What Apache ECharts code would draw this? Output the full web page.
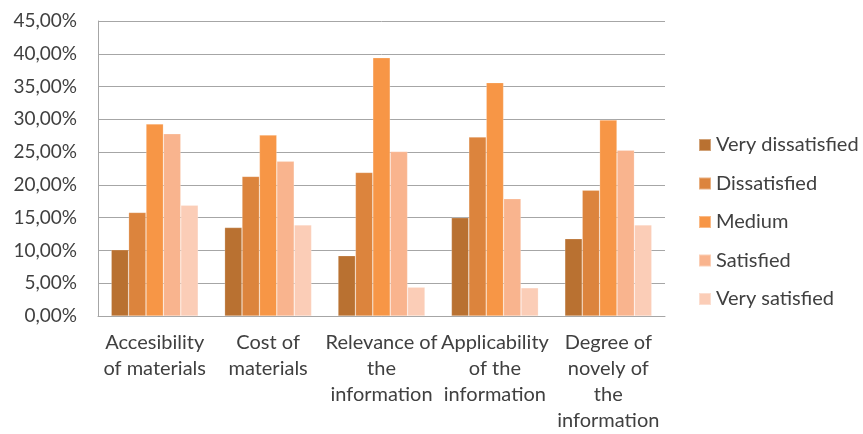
<!DOCTYPE html>
<html>
<head>
<meta charset="utf-8">
<style>
  html, body { margin: 0; padding: 0; background: #ffffff; }
  #chart { width: 863px; height: 434px; }
</style>
<script src="https://cdn.jsdelivr.net/npm/echarts@6/dist/echarts.min.js"></script>
</head>
<body>
<div id="chart"></div>
<script>
// Survey aspects (x axis)
const categories = [
  'Accesibility\nof materials',
  'Cost of\nmaterials',
  'Relevance of\nthe\ninformation',
  'Applicability\nof the\ninformation',
  'Degree of\nnovely of\nthe\ninformation'
];

// Share of respondents per satisfaction level, in percent
const veryDissatisfied = [10.1, 13.5, 9.2, 15.0, 11.8];
const dissatisfied     = [15.8, 21.3, 21.9, 27.3, 19.2];
const medium           = [29.3, 27.6, 39.4, 35.6, 29.9];
const satisfied        = [27.8, 23.6, 25.1, 17.9, 25.3];
const verySatisfied    = [16.9, 13.9, 4.4, 4.3, 13.9];

const seriesNames = ['Very dissatisfied', 'Dissatisfied', 'Medium', 'Satisfied', 'Very satisfied'];
const seriesData = [veryDissatisfied, dissatisfied, medium, satisfied, verySatisfied];
const seriesColors = ['#B97131', '#DC843D', '#F79646', '#F9B48E', '#FBCDB7'];

// Y axis tick range (percent)
const yMin = 0, yMax = 45, yStep = 5;

const FONT = 'Lato';
const TEXT = '#404040';

const chart = echarts.init(document.getElementById('chart'), null, { renderer: 'canvas' });

chart.setOption({
  animation: false,
  backgroundColor: '#ffffff',
  textStyle: { fontFamily: FONT },
  grid: { left: 98, right: 198, top: 21, bottom: 118, containLabel: false },
  legend: {
    orient: 'vertical',
    left: 693,
    top: 129,
    itemWidth: 12,
    itemHeight: 12,
    itemGap: 16.5,
    icon: 'rect',
    textStyle: { fontFamily: FONT, fontSize: 20, color: TEXT, lineHeight: 22 },
    data: seriesNames
  },
  xAxis: {
    type: 'category',
    data: categories,
    axisLine: { show: true, lineStyle: { color: '#a6a6a6', width: 1 } },
    axisTick: { show: false },
    axisLabel: {
      interval: 0,
      margin: 14,
      fontFamily: FONT,
      fontSize: 20,
      lineHeight: 26,
      color: TEXT,
      align: 'center'
    }
  },
  yAxis: {
    type: 'value',
    min: yMin,
    max: yMax,
    interval: yStep,
    axisLine: { show: true, lineStyle: { color: '#a6a6a6', width: 1 } },
    axisTick: { show: false },
    splitLine: { show: true, lineStyle: { color: '#a6a6a6', width: 1 } },
    axisLabel: {
      margin: 21,
      fontFamily: FONT,
      fontSize: 19,
      color: TEXT,
      formatter: v => v.toFixed(2).replace('.', ',') + '%'
    }
  },
  series: seriesNames.map((name, i) => ({
    name,
    type: 'bar',
    data: seriesData[i],
    barGap: '0%',
    barCategoryGap: '23.3%',
    itemStyle: {
      color: seriesColors[i],
      borderColor: 'rgba(255,255,255,0.35)',
      borderWidth: 0.6
    },
    emphasis: { disabled: true }
  }))
});
</script>
</body>
</html>
